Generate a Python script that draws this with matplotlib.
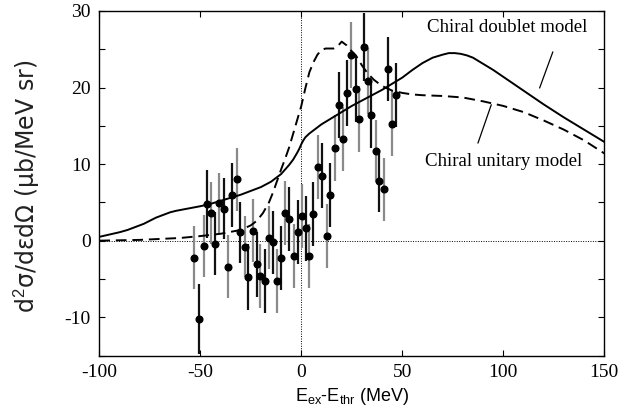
import matplotlib
matplotlib.use("Agg")
import matplotlib.pyplot as plt
import numpy as np

# ---- data ----
exp_x = [-52.9, -50.7, -48.4, -46.6, -44.6, -42.5, -40.5, -38.3, -36.4, -34.4,
         -32.0, -30.2, -27.9, -26.2, -24.1, -22.1, -20.3, -18.2, -16.2, -14.0,
         -12.0, -10.2, -7.9, -5.9, -3.8, -1.6, 0.2, 2.3, 4.0, 6.0,
         8.1, 10.3, 12.5, 14.2, 16.6, 18.5, 20.4, 22.4, 24.7, 26.9,
         28.7, 30.8, 32.8, 34.6, 36.8, 38.4, 40.9, 43.0, 44.9, 46.9]
exp_y = [-2.2, -10.2, -0.7, 4.8, 3.6, -0.4, 4.9, 4.2, -3.4, 6.0,
         8.0, 1.1, -0.8, -4.8, 1.3, -3.1, -4.6, -5.3, 0.4, -0.2,
         -5.3, -2.3, 3.6, 2.8, -2.0, 1.1, 3.2, 1.6, -2.0, 3.5,
         9.6, 8.5, 0.6, 6.0, 12.1, 17.7, 13.3, 19.3, 24.3, 19.8,
         15.9, 25.3, 20.9, 16.4, 11.7, 7.8, 6.7, 22.4, 15.3, 19.0]
exp_err = [4.1, 4.6, 4.1, 4.4, 4.1, 4.1, 4.0, 4.0, 4.1, 4.2,
           4.1, 4.0, 4.0, 4.3, 4.1, 4.2, 4.2, 4.2, 4.1, 4.1,
           4.2, 4.2, 4.2, 4.2, 4.2, 4.2, 4.2, 4.2, 4.2, 4.2,
           4.2, 4.2, 4.2, 4.2, 4.3, 4.3, 4.2, 4.3, 4.3, 4.3,
           4.3, 4.4, 4.3, 4.3, 4.1, 4.1, 4.1, 4.2, 4.2, 4.2]

doublet_x = [-100, -95, -90, -86, -82, -78, -75, -72, -68, -65, -62, -58, -54, -50,
             -45, -40, -35, -30, -25, -20, -15, -12, -10, -8, -6, -4, -2, -1, 0,
             1, 2, 4, 6, 10, 15, 20, 25, 30, 35, 40, 45, 50, 55, 60, 65, 70, 73,
             76, 79, 82, 85, 90, 95, 100, 110, 120, 130, 140, 150]
doublet_y = [0.5, 0.8, 1.1, 1.4, 1.8, 2.2, 2.6, 3.0, 3.4, 3.7, 3.9, 4.1, 4.3, 4.5,
             4.8, 5.2, 5.6, 6.0, 6.5, 7.0, 7.7, 8.3, 8.7, 9.3, 9.9, 10.6, 11.5, 12.0, 12.6,
             13.1, 13.5, 14.0, 14.4, 15.2, 16.0, 16.8, 17.6, 18.3, 19.0, 19.7, 20.5,
             21.3, 22.3, 23.2, 23.9, 24.3, 24.5, 24.5, 24.4, 24.2, 23.9, 23.1, 22.3,
             21.4, 19.6, 17.8, 16.1, 14.5, 12.9]

unitary_x = [-100, -80, -60, -50, -40, -30, -25, -22, -19, -16, -14, -12, -10, -8,
             -6, -4, -2, 0, 2, 4, 6, 8, 10, 12, 14, 16, 17.5, 19, 20, 21, 22.5, 24,
             27, 30, 33, 36, 40, 45, 50, 55, 60, 70, 80, 90, 100, 110, 120, 130,
             140, 150]
unitary_y = [0.0, 0.1, 0.35, 0.6, 0.9, 1.4, 2.0, 2.6, 3.6, 5.0, 6.3, 7.8, 9.3, 10.7,
             12.2, 14.0, 15.8, 17.6, 19.9, 22.0, 23.3, 24.3, 24.9, 25.1, 25.1, 25.1,
             25.3, 25.7, 26.0, 25.8, 25.5, 25.0, 24.2, 22.9, 21.8, 21.0, 20.2, 19.6,
             19.3, 19.1, 19.0, 18.9, 18.7, 18.2, 17.6, 16.8, 15.7, 14.5, 13.1, 11.4]

xticks = [-100, -50, 0, 50, 100, 150]
yticks = [-10, 0, 10, 20, 30]

plt.rcParams['axes.unicode_minus'] = False
plt.rcParams['mathtext.fontset'] = 'custom'
plt.rcParams['mathtext.rm'] = 'Liberation Sans'
plt.rcParams['mathtext.it'] = 'Liberation Sans:italic'

fig = plt.figure(figsize=(6.31, 4.18), dpi=100)
ax = fig.add_axes([99.3 / 631, 1 - 355.5 / 418, 505 / 631, 344.5 / 418])

ax.set_xlim(-100, 150)
ax.set_ylim(-15, 30)

ax.axhline(0, color='black', lw=0.7, ls=(0, (1, 1.5)), zorder=1)
ax.axvline(0, color='black', lw=0.7, ls=(0, (1, 1.5)), zorder=1)

ax.plot(doublet_x, doublet_y, color='black', lw=1.4, zorder=3)
ax.plot(unitary_x, unitary_y, color='black', lw=1.4, ls=(0, (5.5, 3)), zorder=3)

for i, (x, y, e) in enumerate(zip(exp_x, exp_y, exp_err)):
    c = '#8a8a8a' if i % 2 == 0 else '#111111'
    ax.plot([x, x], [y - e, y + e], color=c, lw=1.6, zorder=2, solid_capstyle='butt')
ax.plot(exp_x, exp_y, 'o', color='black', ms=4.8, zorder=4)

ax.set_xticks(xticks)
ax.set_yticks(yticks)
ax.set_yticks([-15, -5, 5, 15, 25], minor=True)
ax.tick_params(which='both', direction='in', top=True, right=True, length=4, width=0.8)
ax.tick_params(labelsize=14)
for lbl in ax.get_xticklabels() + ax.get_yticklabels():
    lbl.set_family('Liberation Serif')
ax.tick_params(axis='x', pad=6)
ax.tick_params(axis='y', pad=6)
for s in ax.spines.values():
    s.set_linewidth(1.0)

ax.set_xlabel(r'E$_{\mathrm{ex}}$-E$_{\mathrm{thr}}$ (MeV)', family='Liberation Sans', fontsize=13, labelpad=4)
ax.set_ylabel(r'd$^{\mathrm{2}}$σ/dεdΩ (μb/MeV sr)', family='DejaVu Sans', fontsize=17, color='#222222')
ax.yaxis.set_label_coords(-0.114, 0.49)

ax.text(102, 27.8, 'Chiral doublet model', family='Liberation Serif', fontsize=13.6, ha='center', va='center')
ax.text(100, 10.3, 'Chiral unitary model', family='Liberation Serif', fontsize=13.6, ha='center', va='center')
ax.annotate('', xy=(117.5, 19.6), xytext=(125, 25.0),
            arrowprops=dict(arrowstyle='-', lw=0.9, color='black'))
ax.annotate('', xy=(94.5, 18.1), xytext=(87, 12.4),
            arrowprops=dict(arrowstyle='-', lw=0.9, color='black'))

fig.savefig('out.png', dpi=100)
